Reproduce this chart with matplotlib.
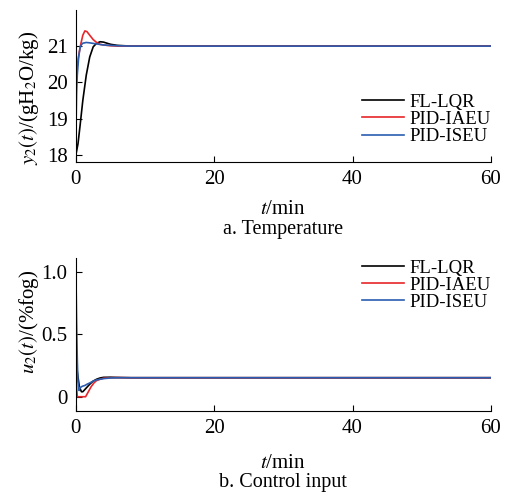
import numpy as np
import matplotlib.pyplot as plt

plt.rcParams['font.family'] = ['Liberation Serif', 'DejaVu Serif']
plt.rcParams['mathtext.fontset'] = 'stix'

labels = ['FL-LQR', 'PID-IAEU', 'PID-ISEU']
colors = ['black', '#e8262a', '#2a5db0']

# temperature response (t in min)
t_lqr = [0, 0.3, 0.6, 1.0, 1.5, 2.0, 2.5, 3.0, 3.5, 4.0, 4.5, 5.0, 6.0, 8.0, 10, 60]
y_lqr = [18.0, 18.3, 18.8, 19.5, 20.2, 20.7, 20.98, 21.08, 21.12, 21.11, 21.08, 21.05, 21.02, 21.0, 21.0, 21.0]
t_iaeu = [0, 0.1, 0.3, 0.5, 0.7, 1.0, 1.3, 1.6, 2.0, 2.5, 3.0, 3.5, 4.0, 5.0, 6.0, 8.0, 60]
y_iaeu = [20.0, 20.3, 20.6, 20.85, 21.05, 21.3, 21.42, 21.4, 21.3, 21.18, 21.1, 21.05, 21.03, 21.01, 21.0, 21.0, 21.0]
t_iseu = [0, 0.1, 0.2, 0.4, 0.6, 0.8, 1.0, 1.5, 2.0, 3.0, 4.0, 6.0, 8.0, 60]
y_iseu = [18.6, 19.7, 20.2, 20.7, 20.95, 21.04, 21.08, 21.1, 21.09, 21.06, 21.03, 21.01, 21.0, 21.0]

# control input
tu_lqr = [0, 0.2, 0.5, 0.8, 1.0, 1.5, 2.0, 2.5, 3.0, 3.5, 4.0, 5.0, 6.0, 8.0, 60]
u_lqr = [0.35, 0.2, 0.08, 0.04, 0.04, 0.07, 0.1, 0.125, 0.14, 0.15, 0.155, 0.156, 0.154, 0.152, 0.152]
tu_iaeu = [0, 0.1, 0.2, 0.5, 1.0, 1.4, 1.8, 2.2, 2.6, 3.0, 3.5, 4.0, 5.0, 6.0, 8.0, 60]
u_iaeu = [0.18, 0.08, 0.0, 0.0, 0.0, 0.0, 0.04, 0.08, 0.11, 0.13, 0.14, 0.148, 0.152, 0.153, 0.152, 0.152]
tu_iseu = [0, 0.1, 0.2, 0.3, 0.45, 0.6, 0.8, 1.0, 1.3, 1.6, 2.0, 2.5, 3.0, 4.0, 5.0, 6.0, 60]
u_iseu = [1.0, 0.6, 0.3, 0.12, 0.05, 0.07, 0.08, 0.085, 0.09, 0.1, 0.11, 0.125, 0.135, 0.145, 0.15, 0.152, 0.152]

fig = plt.figure(figsize=(5.06, 4.94), dpi=100)
ax1 = fig.add_axes([0.150, 0.672, 0.820, 0.308])
ax2 = fig.add_axes([0.150, 0.168, 0.820, 0.310])

for ax in (ax1, ax2):
    ax.spines['top'].set_visible(False)
    ax.spines['right'].set_visible(False)
    ax.tick_params(direction='in', length=4, labelsize=15, pad=6)
    ax.set_xlim(0, 60)
    ax.set_xticks([0, 20, 40, 60])

ax1.plot(t_lqr, y_lqr, color=colors[0], lw=1.2, label=labels[0])
ax1.plot(t_iaeu, y_iaeu, color=colors[1], lw=1.2, label=labels[1])
ax1.plot(t_iseu, y_iseu, color=colors[2], lw=1.2, label=labels[2])
ax1.set_ylim(17.8, 22.0)
ax1.set_yticks([18, 19, 20, 21])
ax1.set_ylabel(r'$y_2(t)$/(gH$_2$O/kg)', fontsize=15)
ax1.yaxis.set_label_coords(-0.085, 0.42)
ax1.set_xlabel(r'$t$/min', fontsize=15, labelpad=8)
ax1.legend(loc='lower right', bbox_to_anchor=(1.04, 0.0), frameon=False,
           fontsize=13.5, handlelength=2.2, handletextpad=0.3, labelspacing=0.0)
fig.text(0.56, 0.535, 'a. Temperature', ha='center', va='center', fontsize=14.5)

ax2.plot(tu_lqr, u_lqr, color=colors[0], lw=1.2, label=labels[0])
ax2.plot(tu_iaeu, u_iaeu, color=colors[1], lw=1.2, label=labels[1])
ax2.plot(tu_iseu, u_iseu, color=colors[2], lw=1.2, label=labels[2])
ax2.set_ylim(-0.114, 1.11)
ax2.set_yticks([0, 0.5, 1.0])
ax2.set_yticklabels(['0', '0.5', '1.0'])
ax2.set_ylabel(r'$u_2(t)$/(%fog)', fontsize=15)
ax2.yaxis.set_label_coords(-0.085, 0.58)
ax2.set_xlabel(r'$t$/min', fontsize=15, labelpad=11)
ax2.legend(loc='upper right', bbox_to_anchor=(1.04, 1.1), frameon=False,
           fontsize=13.5, handlelength=2.2, handletextpad=0.3, labelspacing=0.0)
fig.text(0.56, 0.024, 'b. Control input', ha='center', va='center', fontsize=14.5)

fig.savefig('out.png', dpi=100)
